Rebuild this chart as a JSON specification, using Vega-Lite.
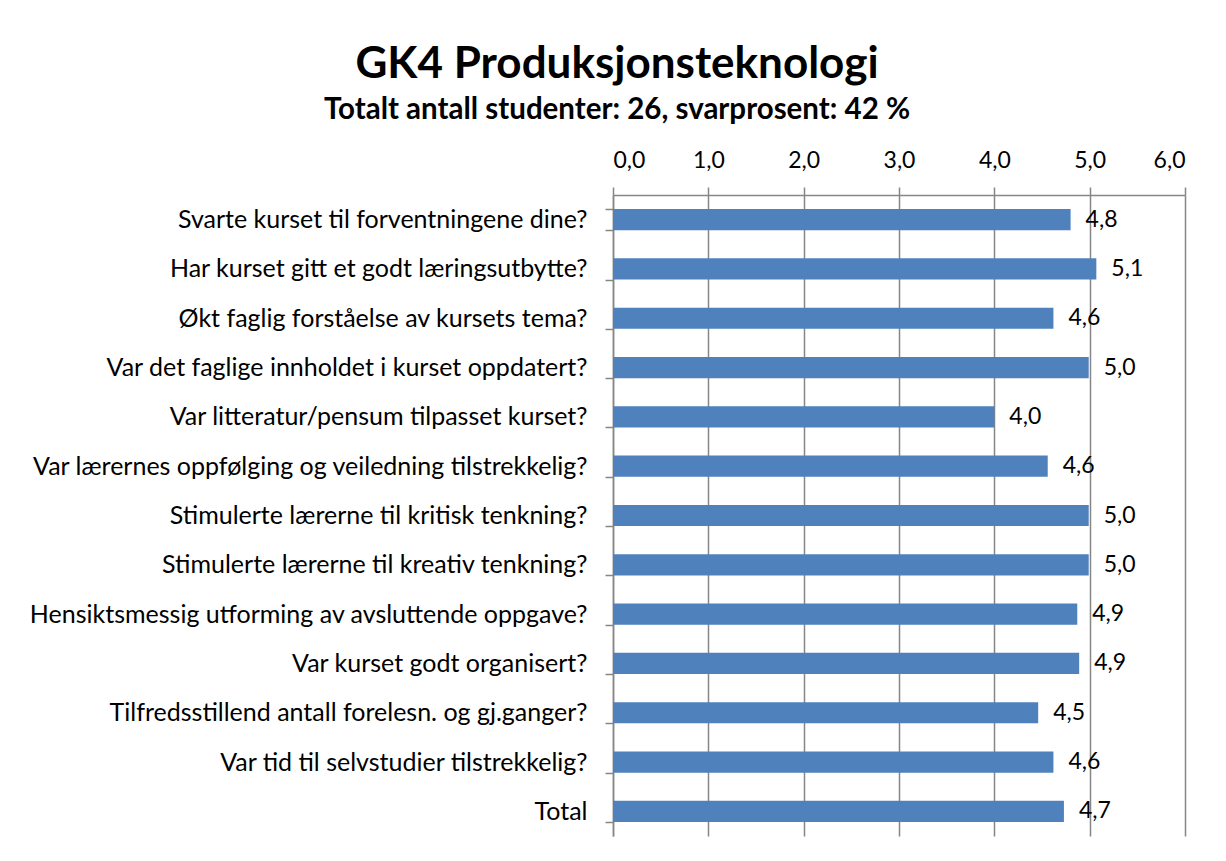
{
  "$schema": "https://vega.github.io/schema/vega-lite/v6.json",
  "autosize": {"type": "none"},
  "width": 572,
  "height": 641,
  "padding": {"left": 613, "top": 195, "right": 41, "bottom": 25},
  "background": "white",
  "config": {
    "font": "Lato",
    "view": {"stroke": null},
    "locale": {"number": {"decimal": ",", "thousands": " ", "grouping": [3], "currency": ["", " kr"]}}
  },
  "title": {
    "text": "GK4 Produksjonsteknologi",
    "subtitle": "Totalt antall studenter: 26, svarprosent: 42 %",
    "anchor": "middle",
    "dx": -282,
    "fontSize": 44,
    "fontWeight": "bold",
    "subtitleFontSize": 29.5,
    "subtitleFontWeight": "bold",
    "subtitleColor": "black",
    "color": "black",
    "subtitlePadding": 9,
    "offset": 25,
    "font": "Lato",
    "subtitleFont": "Lato"
  },
  "data": {
    "values": [
      {"question": "Svarte kurset til forventningene dine?", "score": 4.80},
      {"question": "Har kurset gitt et godt læringsutbytte?", "score": 5.07},
      {"question": "Økt faglig forståelse av kursets tema?", "score": 4.62},
      {"question": "Var det faglige innholdet i kurset oppdatert?", "score": 4.99},
      {"question": "Var litteratur/pensum tilpasset kurset?", "score": 4.0},
      {"question": "Var lærernes oppfølging og veiledning tilstrekkelig?", "score": 4.56},
      {"question": "Stimulerte lærerne til kritisk tenkning?", "score": 4.99},
      {"question": "Stimulerte lærerne til kreativ tenkning?", "score": 4.99},
      {"question": "Hensiktsmessig utforming av  avsluttende oppgave?", "score": 4.87},
      {"question": "Var kurset godt organisert?", "score": 4.89},
      {"question": "Tilfredsstillend antall forelesn. og gj.ganger?", "score": 4.46},
      {"question": "Var tid til selvstudier tilstrekkelig?", "score": 4.62},
      {"question": "Total", "score": 4.73}
    ]
  },
  "encoding": {
    "y": {
      "field": "question",
      "type": "nominal",
      "sort": null,
      "title": null,
      "scale": {"paddingInner": 0.57, "paddingOuter": 0.285},
      "axis": {
        "orient": "left",
        "labelFontSize": 25,
        "labelColor": "black",
        "labelPadding": 18,
        "labelLimit": 700,
        "tickBand": "extent",
        "tickSize": 8,
        "tickColor": "#868686",
        "domainColor": "#868686",
        "tickWidth": 1.5,
        "domainWidth": 1.5
      }
    }
  },
  "layer": [
    {
      "mark": {"type": "bar", "color": "#4F81BD"},
      "encoding": {
        "x": {
          "field": "score",
          "type": "quantitative",
          "title": null,
          "scale": {"domain": [0, 6], "nice": false},
          "axis": {
            "orient": "top",
            "values": [0, 1, 2, 3, 4, 5, 6],
            "format": ".1f",
            "labelFontSize": 23,
            "labelColor": "black",
            "labelPadding": 15,
            "tickSize": 8,
            "tickColor": "#868686",
            "domainColor": "#868686",
            "gridColor": "#868686",
            "grid": true,
            "gridWidth": 1.5,
            "tickWidth": 1.5,
            "domainWidth": 1.5
          }
        }
      }
    },
    {
      "mark": {"type": "text", "align": "left", "baseline": "middle", "dx": 15, "fontSize": 23, "color": "black"},
      "encoding": {
        "x": {"field": "score", "type": "quantitative"},
        "text": {"field": "score", "type": "quantitative", "format": ".1f"}
      }
    }
  ]
}
